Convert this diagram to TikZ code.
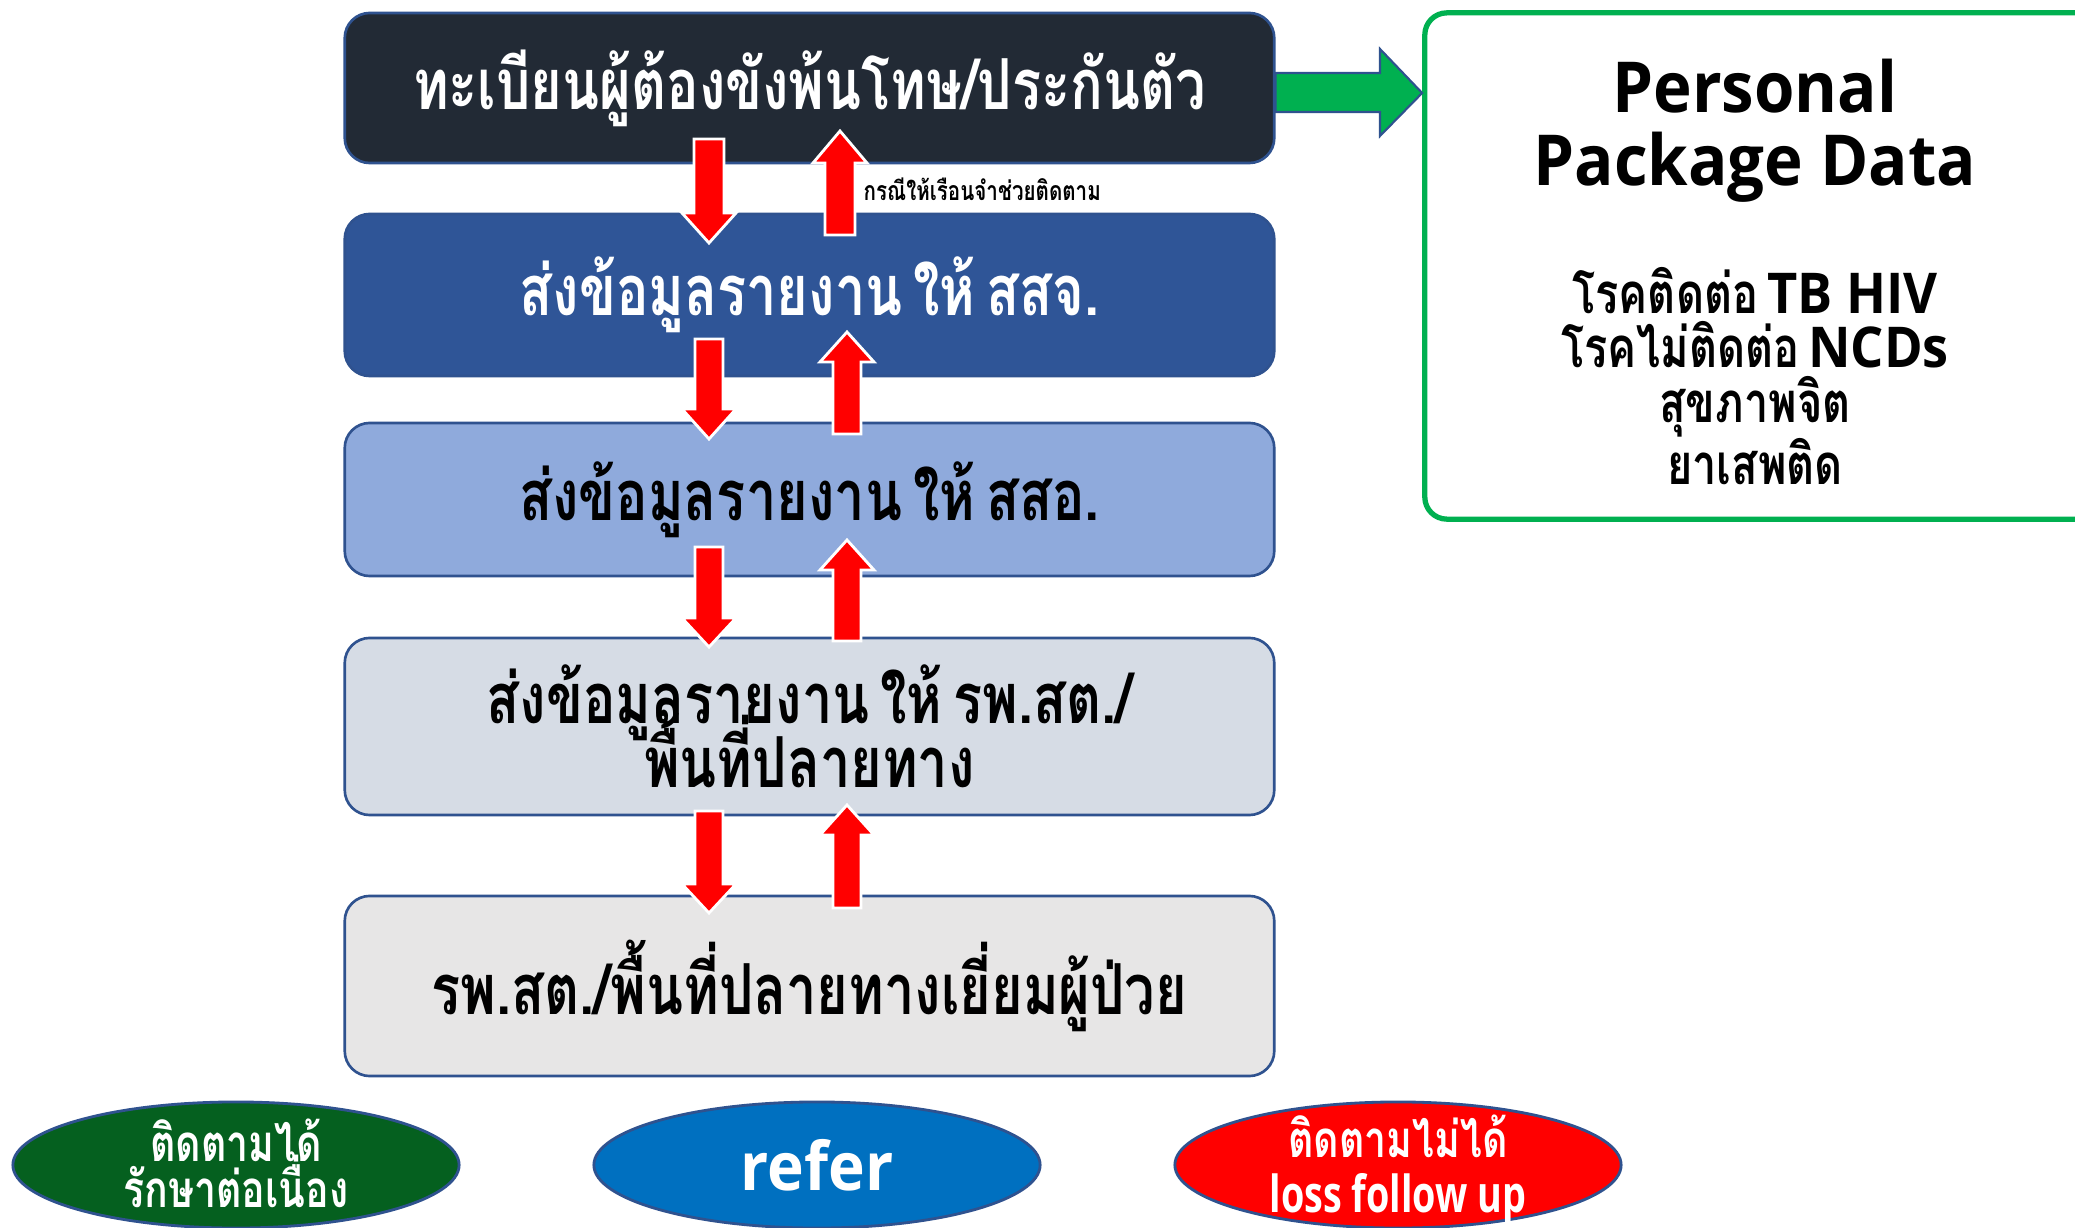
\documentclass[tikz,border=0pt]{standalone}
\usepackage{fontspec}
\newfontfamily\thfont[Script=Thai,FakeStretch=0.77,WordSpace=0.6]{Loma}
\newfontfamily\latfont[FakeStretch=0.93]{Open Sans}
\newfontfamily\latcond[FakeStretch=0.74]{Open Sans}
\usetikzlibrary{shapes.geometric}
\definecolor{boxline}{HTML}{2F528F}
\definecolor{cone}{HTML}{222A35}
\definecolor{ctwo}{HTML}{2F5597}
\definecolor{cthree}{HTML}{8FAADC}
\definecolor{cfour}{HTML}{D6DCE5}
\definecolor{cfive}{HTML}{E7E6E6}
\definecolor{gbright}{HTML}{00B050}
\definecolor{gdark}{HTML}{05601F}
\definecolor{bref}{HTML}{0070C0}
\definecolor{rbright}{HTML}{FF0000}
\newcommand\blockarrow[5]{% x, tail y, head-base y, tip y, half shaft
  \draw[redarrow] (#1-#5,#2) -- (#1-#5,#3) -- (#1-27,#3) -- (#1,#4) -- (#1+27,#3) -- (#1+#5,#3) -- (#1+#5,#2) -- cycle;}
\begin{document}
\begin{tikzpicture}[x=0.01cm,y=-0.01cm,
  stagebox/.style={draw=boxline, line width=0.75pt, rounded corners=0.25cm, minimum width=9.29cm, inner sep=0pt, align=center, font=\thfont\bfseries\fontsize{20}{18}\selectfont},
  redarrow/.style={fill=rbright, draw=white, line width=0.8pt, line join=miter},
  greenarrow/.style={fill=gbright, draw=boxline, line width=0.6pt},
  oval/.style={ellipse, draw=boxline, line width=0.8pt, minimum width=4.46cm, minimum height=1.26cm, inner sep=0pt},
  ovaltext/.style={inner sep=0pt, align=center, text=white}
]
\useasboundingbox (0,0) rectangle (2075,1228);
\clip (0,0) rectangle (2075,1228);
\fill[white] (0,0) rectangle (2075,1228);

% stage boxes
\node[stagebox, fill=cone, text=white, minimum height=1.50cm] (b1) at (809.5,88) {ทะเบียนผู้ต้องขังพ้นโทษ/ประกันตัว};
\node[stagebox, fill=ctwo, text=white, minimum height=1.62cm] (b2) at (809.5,295) {ส่งข้อมูลรายงาน ให้ สสจ.};
\node[stagebox, fill=cthree, text=black, minimum height=1.53cm] (b3) at (809.5,499.5) {ส่งข้อมูลรายงาน ให้ สสอ.};
\node[stagebox, fill=cfour, text=black, minimum height=1.77cm] (b4) at (809.5,726.5) {ส่งข้อมูลรายงาน ให้ รพ.สต./\\[-9pt]พื้นที่ปลายทาง};
\node[stagebox, fill=cfive, text=black, minimum height=1.80cm] (b5) at (809.5,986) {รพ.สต./พื้นที่ปลายทางเยี่ยมผู้ป่วย};

% red arrows
\blockarrow{709}{139}{213}{243}{15}
\blockarrow{840}{235}{163}{131}{15}
\blockarrow{709}{339}{409}{439}{14}
\blockarrow{847}{434}{362}{332}{14}
\blockarrow{709}{547}{618}{647}{14}
\blockarrow{847}{641}{570}{540}{14}
\blockarrow{709}{811}{884}{913}{14}
\blockarrow{847}{908}{835}{805}{14}

\node[anchor=west, inner sep=0pt, font=\thfont\bfseries\fontsize{7.6}{9}\selectfont] (note) at (863,189) {กรณีให้เรือนจำช่วยติดตาม};

% package box
\node[draw=gbright, line width=1.5pt, rounded corners=0.22cm, minimum width=6.75cm, minimum height=5.06cm, inner sep=0pt] (pkg) at (1762.5,266) {};
\node[inner sep=0pt, align=center, font=\latfont\bfseries\fontsize{20}{20.8}\selectfont] (pkgtitle) at (1755,131) {Personal\\Package Data};
\node[inner sep=0pt, align=center, font=\thfont\bfseries\fontsize{16}{16}\selectfont] (pkglist) at (1755,376) {โรคติดต่อ {\latfont TB HIV}\\[-0.5pt]โรคไม่ติดต่อ {\latfont NCDs}\\[-0.5pt]สุขภาพจิต\\[-0.5pt]ยาเสพติด};

% green arrow
\draw[greenarrow] (b1.east |- 0,73) -- (1380,73) -- (1380,49) -- (pkg.west |- 0,93) -- (1380,136) -- (1380,112) -- (b1.east |- 0,112) -- cycle;

% outcome ovals
\node[oval, fill=gdark] (o1) at (236,1165) {};
\node[oval, fill=bref] (o2) at (817,1165) {};
\node[oval, fill=rbright] (o3) at (1398,1165) {};
\node[ovaltext, font=\thfont\bfseries\fontsize{14.5}{13.5}\selectfont] (t1) at ([yshift=0.02cm]o1) {ติดตามได้\\[-3pt]รักษาต่อเนื่อง};
\node[ovaltext, font=\latfont\bfseries\fontsize{19}{20}\selectfont] (t2) at (o2) {refer};
\node[ovaltext, font=\fontsize{14.5}{13.5}\selectfont] (t3) at ([yshift=-0.05cm]o3) {{\thfont\bfseries ติดตามไม่ได้}\\[2pt]{\latcond\bfseries loss follow up}};
\end{tikzpicture}
\end{document}
